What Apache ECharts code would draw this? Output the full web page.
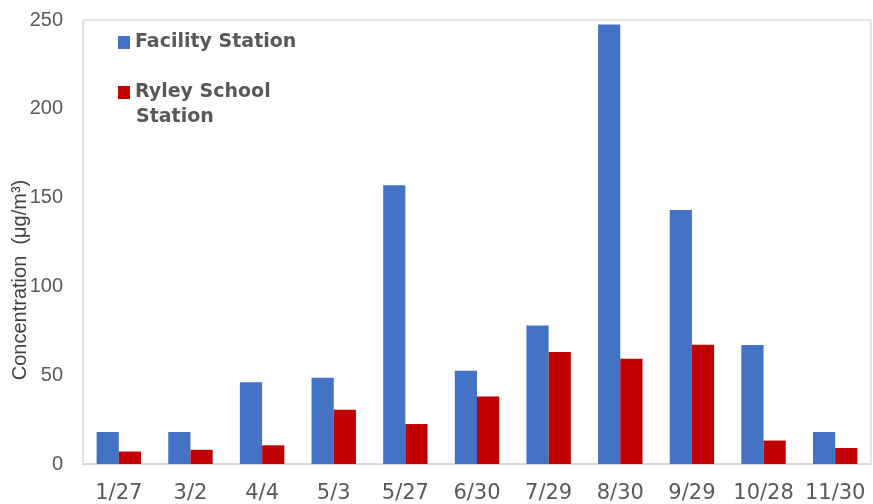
<!DOCTYPE html>
<html>
<head>
<meta charset="utf-8">
<script src="https://cdn.jsdelivr.net/npm/echarts@6/dist/echarts.min.js"></script>
<style>html,body{margin:0;padding:0;background:#fff}#c{width:873px;height:504px}</style>
</head>
<body>
<div id="c"></div>
<script>
const categories = ['1/27','3/2','4/4','5/3','5/27','6/30','7/29','8/30','9/29','10/28','11/30'];
const facility = [18, 18, 46, 48.6, 157, 52.5, 78, 247.5, 143, 67, 18];
const ryley = [7, 8, 10.5, 30.5, 22.5, 38, 63, 59.3, 67.2, 13.2, 9];
const yTicks = [0, 50, 100, 150, 200, 250];

const chart = echarts.init(document.getElementById('c'), null, {renderer: 'canvas'});
const legendText = {fontFamily: 'DejaVu Sans', fontWeight: 'bold', fontSize: 19, color: '#595959', lineHeight: 25};
chart.setOption({
  animation: false,
  backgroundColor: '#fff',
  grid: {left: 83, right: 2, top: 20, bottom: 39, show: true, borderColor: '#C8C8C8', borderWidth: 1},
  legend: [
    {data: ['Facility Station'], left: 118, top: 30, padding: 0, orient: 'vertical', itemWidth: 12, itemHeight: 13, itemGap: 5,
     icon: 'rect', textStyle: legendText},
    {data: ['Ryley School Station'], left: 118, top: 80, padding: 0, orient: 'vertical', itemWidth: 12, itemHeight: 13, itemGap: 5,
     icon: 'rect', textStyle: legendText,
     formatter: n => 'Ryley School'}
  ],
  xAxis: {
    type: 'category', data: categories,
    axisLine: {lineStyle: {color: '#D9D9D9', width: 2}},
    axisTick: {show: false},
    axisLabel: {interval: 0, fontFamily: 'DejaVu Sans', fontSize: 21, color: '#595959', margin: 19}
  },
  yAxis: {
    type: 'value', min: yTicks[0], max: yTicks[yTicks.length - 1], interval: 50,
    axisLine: {show: true, lineStyle: {color: '#D9D9D9', width: 1}},
    axisTick: {show: false},
    splitLine: {show: false},
    axisLabel: {fontFamily: 'Liberation Sans', fontSize: 20, color: '#595959', margin: 20}
  },
  graphic: [{
    type: 'text', x: 20, y: 280, rotation: Math.PI / 2,
    style: {text: 'Concentration  (μg/m³)', fontFamily: 'Liberation Sans', fontSize: 20, fill: '#404040',
            align: 'center', verticalAlign: 'middle'}
  }, {
    type: 'text', x: 136, y: 117,
    style: {text: 'Station', fontFamily: 'DejaVu Sans', fontWeight: 'bold', fontSize: 19, fill: '#595959',
            align: 'left', verticalAlign: 'middle'}
  }],
  series: [
    {name: 'Facility Station', type: 'bar', data: facility, barGap: '0%', barCategoryGap: '38%',
     itemStyle: {color: '#4472C4'}},
    {name: 'Ryley School Station', type: 'bar', data: ryley, barGap: '0%', barCategoryGap: '38%',
     itemStyle: {color: '#C00000'}}
  ]
});
</script>
</body>
</html>
